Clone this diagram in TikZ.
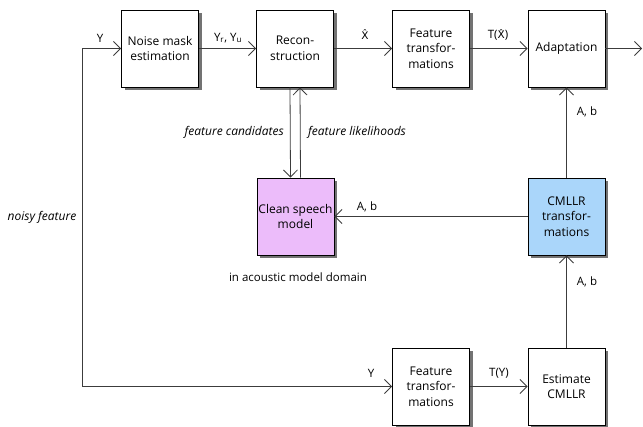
\documentclass[tikz,border=0pt]{standalone}
\usepackage{fontspec}
\setmainfont{Open Sans}
\newfontfamily\djv{DejaVu Sans}
\usetikzlibrary{arrows.meta,shadows}
\definecolor{linec}{RGB}{60,60,60}
\definecolor{pinkbox}{RGB}{236,188,250}
\definecolor{bluebox}{RGB}{170,214,250}
\newcommand\myxhat{{\djv\fontsize{10.5}{14}\selectfont X^^^^0302}}
\tikzset{
  blk/.style={draw=black, line width=0.9pt, fill=white, minimum width=77pt, minimum height=77pt,
    align=center, inner sep=1pt, font=\fontsize{12}{15.5}\selectfont,
    drop shadow={shadow xshift=3pt, shadow yshift=-3pt, fill=black!55, opacity=1}},
  conn/.style={draw=linec, line width=0.8pt, -{Straight Barb[length=7pt,width=14pt,line width=0.8pt]}},
  lab/.style={font=\fontsize{11.5}{14}\selectfont, text=black, inner sep=1pt},
  ilab/.style={lab, font=\fontsize{12}{14}\selectfont\itshape}
}
\begin{document}
\begin{tikzpicture}[x=1pt,y=-1pt]
\path[use as bounding box] (0,0) rectangle (643,427);
\node[blk] (nm) at (160,48.5) {Noise mask\\estimation};
\node[blk] (rec) at (295,48.5) {Recon-\\struction};
\node[blk] (ft1) at (431,48.5) {Feature\\transfor-\\mations};
\node[blk] (ad) at (566.5,48.5) {Adaptation};
\node[blk, fill=pinkbox] (csm) at (295.5,216.5) {Clean speech\\model};
\node[blk, fill=bluebox] (cml) at (566.5,216.5) {CMLLR\\transfor-\\mations};
\node[blk] (ft2) at (431,386.5) {Feature\\transfor-\\mations};
\node[blk] (est) at (566.5,386.5) {Estimate\\CMLLR};
\coordinate (c1) at (82,48.5);
\coordinate (c2) at (82,386.5);
\coordinate (out) at (642,48.5);
\draw[conn] (c2) -- (c1) -- (nm.west);
\draw[conn] (c2) -- (ft2.west);
\draw[conn] (nm) -- (rec);
\draw[conn] (rec) -- (ft1);
\draw[conn] (ft1) -- (ad);
\draw[conn] (ad) -- (out);
\draw[conn] ([xshift=-5pt]rec.south) -- ([xshift=-5pt]csm.north);
\draw[conn] ([xshift=5pt]csm.north) -- ([xshift=5pt]rec.south);
\draw[conn] (cml) -- (csm);
\draw[conn] (cml) -- (ad);
\draw[conn] (est) -- (cml);
\draw[conn] (ft2) -- (est);
\node[lab] (ly1) at (100,38) {Y};
\node[lab] (lyr) at (228,38) {Y\textsubscript{r}, Y\textsubscript{u}};
\node[lab] (lx) at (365,35) {\myxhat};
\node[lab] (ltx) at (498,35) {T(\myxhat)};
\node[ilab, anchor=east] (lfc) at (285,132) {feature candidates};
\node[ilab, anchor=west] (lfl) at (307,132) {feature likelihoods};
\node[lab] (lab1) at (367,207) {A, b};
\node[lab] (lab2) at (587,112) {A, b};
\node[lab] (lab3) at (587,282) {A, b};
\node[lab] (lam) at (298,277) {in acoustic model domain};
\node[ilab] (lnf) at (42,217) {noisy feature};
\node[lab] (ly2) at (371,373) {Y};
\node[lab] (lty) at (499,373) {T(Y)};
\end{tikzpicture}
\end{document}
